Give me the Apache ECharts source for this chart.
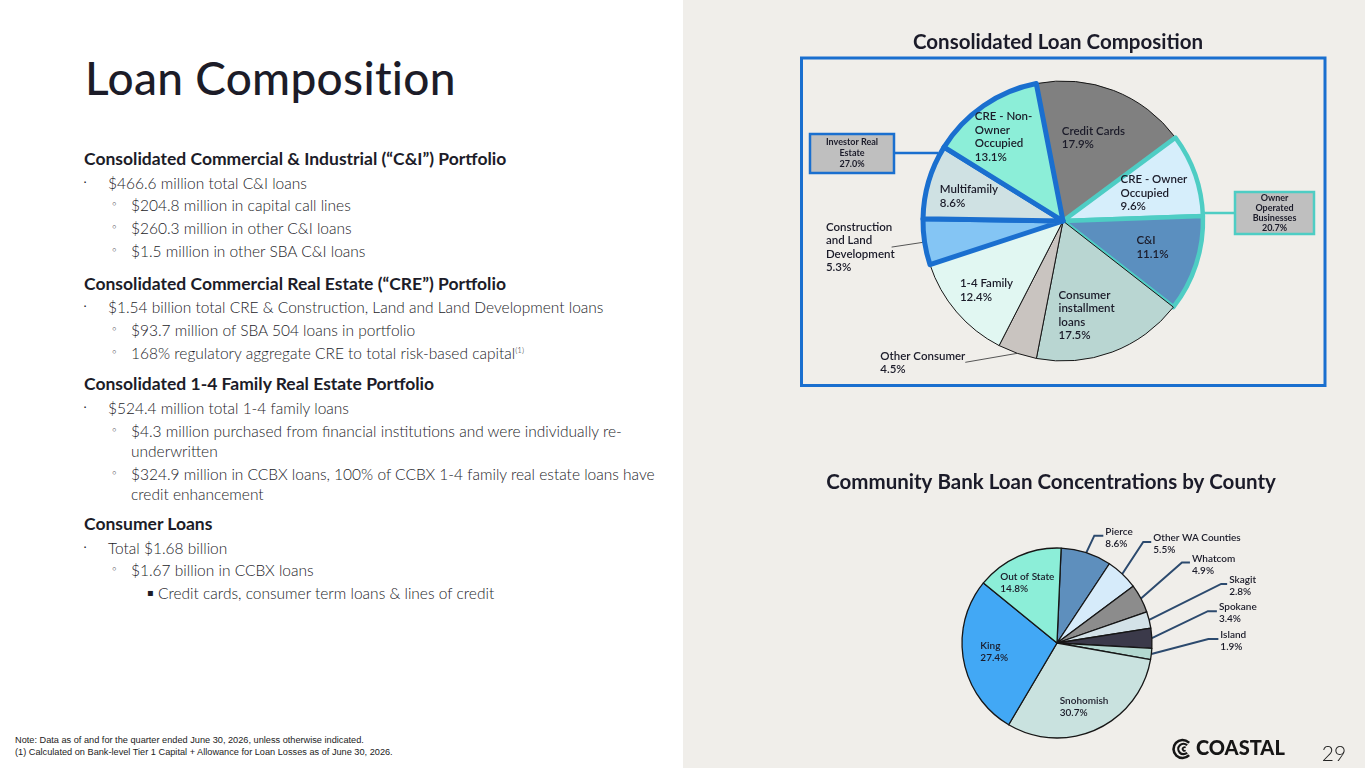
<!DOCTYPE html>
<html>
<head>
<meta charset="utf-8">
<title>Loan Composition</title>
<script src="https://cdn.jsdelivr.net/npm/echarts@6/dist/echarts.min.js"></script>
<style>
html, body { margin: 0; padding: 0; width: 1365px; height: 768px; overflow: hidden; background: #fff; }
body { font-family: Lato, "Noto Sans", sans-serif; color: #1c1c28; }
#panel { position: absolute; left: 683px; top: 0; width: 682px; height: 768px; background: #f0eeea; }
#chart { position: absolute; left: 0; top: 0; width: 1365px; height: 768px; }
.ttl { position: absolute; left: 85px; top: 50px; font-size: 46px; font-weight: 500; letter-spacing: 0.3px; }
.h { position: absolute; left: 84px; font-size: 17.5px; font-weight: 700; line-height: 20px; white-space: nowrap; }
.b1, .b2, .b3 { position: absolute; font-size: 15.5px; font-weight: 300; line-height: 20px; white-space: nowrap; }
.b1 { left: 108px; }
.b2 { left: 131px; }
.b3 { left: 158px; }
.b1 span, .b2 span, .b3 span { position: absolute; font-family: "DejaVu Sans", sans-serif; font-weight: 400; }
.b1 span { left: -25px; font-size: 13px; }
.b2 span { left: -20px; font-size: 11px; }
.b3 span { left: -11px; font-size: 10px; }
sup { font-size: 8px; line-height: 0; vertical-align: 6px; }
.note { position: absolute; left: 15px; font-size: 9.2px; line-height: 12px; color: #222; white-space: nowrap; font-family: "Liberation Sans", Arial, sans-serif; }
</style>
</head>
<body>
<div id="panel"></div>

<div class="ttl">Loan Composition</div>

<div class="h" style="top:149px">Consolidated Commercial &amp; Industrial (“C&amp;I”) Portfolio</div>
<div class="b1" style="top:173px"><span>·</span>$466.6 million total C&amp;I loans</div>
<div class="b2" style="top:195px"><span>◦</span>$204.8 million in capital call lines</div>
<div class="b2" style="top:218px"><span>◦</span>$260.3 million in other C&amp;I loans</div>
<div class="b2" style="top:241px"><span>◦</span>$1.5 million in other SBA C&amp;I loans</div>

<div class="h" style="top:274px">Consolidated Commercial Real Estate (“CRE”) Portfolio</div>
<div class="b1" style="top:297px"><span>·</span>$1.54 billion total CRE &amp; Construction, Land and Land Development loans</div>
<div class="b2" style="top:320px"><span>◦</span>$93.7 million of SBA 504 loans in portfolio</div>
<div class="b2" style="top:343px"><span>◦</span>168% regulatory aggregate CRE to total risk-based capital<sup>(1)</sup></div>

<div class="h" style="top:374px">Consolidated 1-4 Family Real Estate Portfolio</div>
<div class="b1" style="top:398px"><span>·</span>$524.4 million total 1-4 family loans</div>
<div class="b2" style="top:421px"><span>◦</span>$4.3 million purchased from financial institutions and were individually re-<br>underwritten</div>
<div class="b2" style="top:464px"><span>◦</span>$324.9 million in CCBX loans, 100% of CCBX 1-4 family real estate loans have<br>credit enhancement</div>

<div class="h" style="top:514px">Consumer Loans</div>
<div class="b1" style="top:538px"><span>·</span>Total $1.68 billion</div>
<div class="b2" style="top:560px"><span>◦</span>$1.67 billion in CCBX loans</div>
<div class="b3" style="top:583px"><span>▪</span>Credit cards, consumer term loans &amp; lines of credit</div>

<div class="note" style="top:734px">Note: Data as of and for the quarter ended June 30, 2026, unless otherwise indicated.</div>
<div class="note" style="top:746px">(1) Calculated on Bank-level Tier 1 Capital + Allowance for Loan Losses as of June 30, 2026.</div>

<div id="chart"></div>

<script>
// consolidated loan composition (% of total loans), clockwise from the top
const loanTypes = ['Credit Cards', 'CRE - Owner Occupied', 'C&I', 'Consumer installment loans',
  'Other Consumer', '1-4 Family', 'Construction and Land Development', 'Multifamily',
  'CRE - Non-Owner Occupied'];
const loanShares = [17.9, 9.6, 11.1, 17.5, 4.5, 12.4, 5.3, 8.6, 13.1];
// how each name is broken into lines on the slide
const loanLines = [['Credit Cards'], ['CRE - Owner', 'Occupied'], ['C&I'], ['Consumer', 'installment', 'loans'],
  ['Other Consumer'], ['1-4 Family'], ['Construction', 'and Land', 'Development'], ['Multifamily'],
  ['CRE - Non-', 'Owner', 'Occupied']];
const investorGroup = ['CRE - Non-Owner Occupied', 'Multifamily', 'Construction and Land Development'];
const ownerGroup = ['CRE - Owner Occupied', 'C&I'];

// community bank loans by county (%), clockwise from the top
const counties = ['Pierce', 'Other WA Counties', 'Whatcom', 'Skagit', 'Spokane', 'Island',
  'Snohomish', 'King', 'Out of State'];
const countyShares = [8.6, 5.5, 4.9, 2.8, 3.4, 1.9, 30.7, 27.4, 14.8];

// colours
const loanColors = ['#808080', '#d6eefb', '#5b8fbf', '#b9d6d2', '#c9c4c0', '#e1f7f2', '#84c5f4', '#cfe1e3', '#8ceed8'];
const countyColors = ['#5e8fbd', '#d6ebfa', '#8c8c8c', '#d3e2e8', '#3b3a4a', '#b3d8d0', '#c9e2df', '#42a8f5', '#8ceed8'];
const BLUE = '#1a6fcf', TEAL = '#4ecdc4', INK = '#1b1b29';

// label placement tweaks (pixels): inside labels are nudged, outside ones get a leader line
const topNudge = {
  'Credit Cards': [4, -15], 'CRE - Owner Occupied': [22, -4], 'C&I': [20, 4],
  'Consumer installment loans': [-2, 26], '1-4 Family': [-21, 22], 'Multifamily': [-24, -4],
  'CRE - Non-Owner Occupied': [-18, -24]
};
const topCallout = {
  'Construction and Land Development': { elbow: [-33, 5], run: 0, text: [3, 0], align: 'right', valign: 'middle' },
  'Other Consumer': { elbow: [-52, 9], run: 0, text: [0, -13], align: 'right', valign: 'top' }
};
const countyNudge = { 'Snohomish': [6, 18], 'King': [-13, 0], 'Out of State': [-9, -14] };
const countyCallout = {
  'Pierce': { elbow: [8, -17] , run: 9 },
  'Other WA Counties': { elbow: [21, -32], run: 8 },
  'Whatcom': { elbow: [41, -36], run: 8 },
  'Skagit': { elbow: [72, -36], run: 6 },
  'Spokane': { elbow: [56, -27], run: 9 },
  'Island': { elbow: [57, -15], run: 10 }
};

const sum = (names) => names.reduce((s, n) => s + loanShares[loanTypes.indexOf(n)], 0);
const investorTotal = sum(investorGroup).toFixed(1) + '%';
const ownerTotal = sum(ownerGroup).toFixed(1) + '%';

function richLines(lines) {
  return lines.map(s => '{t|' + s + '}').join('\n');
}

function placeLabel(p, names, nudge, callout) {
  const n = names[p.dataIndex];
  const r = p.labelRect;
  const c = callout[n];
  if (c && p.labelLinePoints) {
    const a = p.labelLinePoints[0];
    const b = [a[0] + c.elbow[0], a[1] + c.elbow[1]];
    const e = [b[0] + c.run, b[1]];
    const t = c.text || [2, -10];
    return { x: e[0] + t[0], y: e[1] + t[1], align: c.align || 'left', verticalAlign: c.valign || 'top',
      labelLinePoints: [a, b, e] };
  }
  const s = nudge[n] || [0, 0];
  return { x: r.x + r.width / 2 + s[0], y: r.y + r.height / 2 + s[1], align: 'center', verticalAlign: 'middle' };
}

const topData = loanTypes.map((n, i) => {
  let border = { borderColor: '#161616', borderWidth: 1 };
  if (investorGroup.includes(n)) border = { borderColor: BLUE, borderWidth: 5 };
  if (ownerGroup.includes(n)) border = { borderColor: TEAL, borderWidth: 4.5 };
  const out = !!topCallout[n];
  return {
    name: n, value: loanShares[i],
    itemStyle: Object.assign({ color: loanColors[i] }, border),
    label: { position: out ? 'outside' : 'inside' },
    labelLine: { show: out, lineStyle: { color: '#555', width: 1 } }
  };
});

const countyData = counties.map((n, i) => {
  const out = !!countyCallout[n];
  return {
    name: n, value: countyShares[i],
    itemStyle: { color: countyColors[i] },
    label: { position: out ? 'outside' : 'inside' },
    labelLine: { show: out, lineStyle: { color: '#2c4a6e', width: 2 } }
  };
});

const chart = echarts.init(document.getElementById('chart'), null, { renderer: 'canvas' });

chart.setOption({
  animation: false,
  backgroundColor: 'transparent',
  graphic: [
    { type: 'text', x: 1058, y: 42, style: { text: 'Consolidated Loan Composition', fontFamily: 'Lato', fontSize: 20.5,
      fontWeight: 700, fill: INK, align: 'center', verticalAlign: 'middle', textAlign: 'center', textVerticalAlign: 'middle' } },
    { type: 'rect', shape: { x: 801.5, y: 58, width: 523.5, height: 327.5 }, style: { fill: 'none', stroke: BLUE, lineWidth: 3 } },
    { type: 'line', shape: { x1: 894, y1: 153, x2: 938, y2: 153 }, style: { stroke: BLUE, lineWidth: 2.5 } },
    { type: 'rect', shape: { x: 810, y: 134, width: 84, height: 39 }, style: { fill: '#bfbfbf', stroke: BLUE, lineWidth: 2.5 } },
    { type: 'text', x: 852, y: 153.5, style: { text: 'Investor Real\nEstate\n' + investorTotal, fontFamily: 'Lato',
      fontSize: 9, fontWeight: 700, lineHeight: 11, fill: INK, align: 'center', verticalAlign: 'middle',
      textAlign: 'center', textVerticalAlign: 'middle' } },
    { type: 'line', shape: { x1: 1198, y1: 213, x2: 1235, y2: 213 }, style: { stroke: TEAL, lineWidth: 2.5 } },
    { type: 'rect', shape: { x: 1235, y: 192, width: 79, height: 42 }, style: { fill: '#bfbfbf', stroke: TEAL, lineWidth: 2.5 } },
    { type: 'text', x: 1274.5, y: 213.5, style: { text: 'Owner\nOperated\nBusinesses\n' + ownerTotal, fontFamily: 'Lato',
      fontSize: 9, fontWeight: 700, lineHeight: 10, fill: INK, align: 'center', verticalAlign: 'middle',
      textAlign: 'center', textVerticalAlign: 'middle' } },
    { type: 'text', x: 1051, y: 482, style: { text: 'Community Bank Loan Concentrations by County', fontFamily: 'Lato',
      fontSize: 20.5, fontWeight: 700, fill: INK, align: 'center', verticalAlign: 'middle', textAlign: 'center', textVerticalAlign: 'middle' } },
    // logo
    { type: 'arc', shape: { cx: 1182.5, cy: 749, r: 9, startAngle: 0.75, endAngle: Math.PI * 2 - 0.75 },
      style: { fill: 'none', stroke: '#161616', lineWidth: 2.6 } },
    { type: 'arc', shape: { cx: 1183.5, cy: 749, r: 5.2, startAngle: 0.8, endAngle: Math.PI * 2 - 0.8 },
      style: { fill: 'none', stroke: '#161616', lineWidth: 2.2 } },
    { type: 'arc', shape: { cx: 1184.5, cy: 749, r: 1.8, startAngle: 0.9, endAngle: Math.PI * 2 - 0.9 },
      style: { fill: 'none', stroke: '#161616', lineWidth: 1.8 } },
    { type: 'text', x: 1196, y: 749, style: { text: 'COASTAL', fontFamily: 'Lato', fontSize: 20, fontWeight: 900,
      fill: '#161616', align: 'left', verticalAlign: 'middle', textAlign: 'left', textVerticalAlign: 'middle' } },
    { type: 'text', x: 1334, y: 754, style: { text: '29', fontFamily: 'Lato', fontSize: 21, fontWeight: 300,
      fill: '#222', align: 'center', verticalAlign: 'middle', textAlign: 'center', textVerticalAlign: 'middle' } }
  ],
  series: [
    {
      type: 'pie',
      center: [1063, 221],
      radius: [0, 140],
      startAngle: 101,
      clockwise: true,
      avoidLabelOverlap: false,
      silent: true,
      emphasis: { disabled: true },
      data: topData,
      label: {
        formatter: (p) => richLines(loanLines[p.dataIndex].concat(p.value.toFixed(1) + '%')),
        rich: { t: { align: 'left', fontFamily: 'Lato', fontSize: 11.5, fontWeight: 600, lineHeight: 13.5, color: INK } }
      },
      labelLayout: (p) => placeLabel(p, loanTypes, topNudge, topCallout)
    },
    {
      type: 'pie',
      center: [1057, 643],
      radius: [0, 95],
      startAngle: 87.5,
      clockwise: true,
      avoidLabelOverlap: false,
      silent: true,
      emphasis: { disabled: true },
      itemStyle: { borderColor: '#161616', borderWidth: 1.3 },
      data: countyData,
      label: {
        formatter: (p) => richLines([p.name, p.value.toFixed(1) + '%']),
        rich: { t: { align: 'left', fontFamily: 'Lato', fontSize: 10, fontWeight: 600, lineHeight: 12, color: INK } }
      },
      labelLayout: (p) => placeLabel(p, counties, countyNudge, countyCallout)
    }
  ]
});
</script>
</body>
</html>
